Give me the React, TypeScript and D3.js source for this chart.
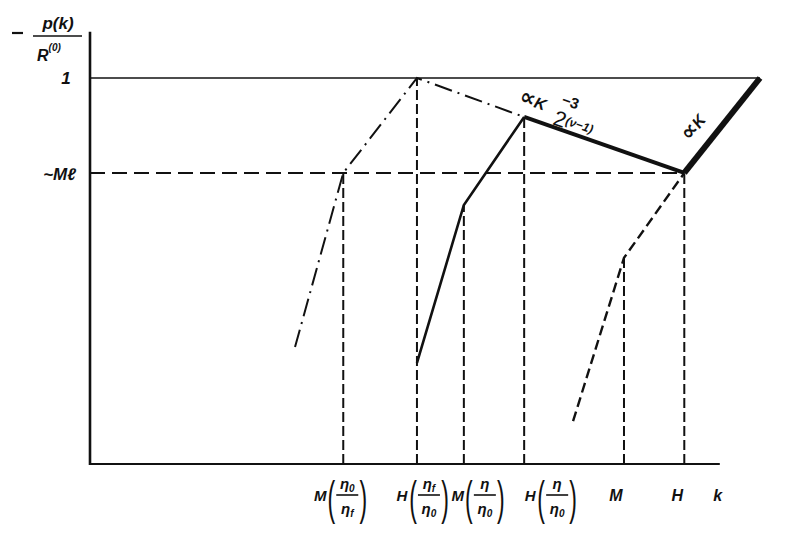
import React from "react";
import * as d3 from "d3";

// ---------- data (log k, log p in arbitrary schematic units) ----------
const breakK = [37.8, 48.8, 55.8, 64.8, 79.7, 88.7];
const breakP = [75.4, 100, 67.1, 89.9, 53.4, 75.4];
const breakLetters = ["M", "H", "M", "H", "M", "H"];
const breakNum = [["η", "0"], ["η", "f"], ["η", ""], ["η", ""], null, null];
const breakDen = [["η", "f"], ["η", "0"], ["η", "0"], ["η", "0"], null, null];

const curveAK = [30.6, 37.8, 48.8, 64.8];
const curveAP = [30.3, 75.4, 100, 89.9];
const curveBK = [48.8, 55.8, 64.8];
const curveBP = [26.2, 67.1, 89.9];
const inertialK = [64.8, 88.7];
const inertialP = [89.9, 75.4];
const curveCK = [72.1, 79.7, 88.7];
const curveCP = [11.1, 53.4, 75.4];
const dissipK = [88.7, 100];
const dissipP = [75.4, 100];

const levelOne = 100;
const levelMl = 75.4;
const kAxisEnd = 94;
const pAxisTop = 112;

// ---------- layout ----------
const W = 811;
const H = 545;
const labelDx = [-28, -20, -11, 1, -8, -7];
const FONT = "'Liberation Sans', 'DejaVu Sans', sans-serif";
const SYM = "'DejaVu Sans', sans-serif";
const INK = "#111";

const x = d3.scaleLinear().domain([0, 100]).range([90, 760]);
const y = d3.scaleLinear().domain([0, 100]).range([464, 78]);

const line = d3
  .line<[number, number]>()
  .x((d) => x(d[0]))
  .y((d) => y(d[1]));
const zipPts = (ks: number[], ps: number[]) =>
  ks.map((k, i) => [k, ps[i]] as [number, number]);

function Eta({ x0, y0, parts }: { x0: number; y0: number; parts: string[] }) {
  return (
    <text
      x={x0}
      y={y0}
      textAnchor="middle"
      fontFamily={FONT}
      fontStyle="italic"
      fontWeight="bold"
      fontSize={15}
      fill={INK}
    >
      {parts[0]}
      {parts[1] ? (
        <tspan fontSize={10} dy={3}>
          {parts[1]}
        </tspan>
      ) : null}
    </text>
  );
}

function TickLabel({ i }: { i: number }) {
  const tx = x(breakK[i]) + labelDx[i];
  const letter = breakLetters[i];
  const num = breakNum[i];
  const den = breakDen[i];
  if (!num || !den) {
    return (
      <text
        x={tx}
        y={501}
        textAnchor="middle"
        fontFamily={FONT}
        fontStyle="italic"
        fontWeight="bold"
        fontSize={16}
        fill={INK}
      >
        {letter}
      </text>
    );
  }
  const fc = tx + 32;
  return (
    <g>
      <text
        x={tx + 5}
        y={501}
        textAnchor="middle"
        fontFamily={FONT}
        fontStyle="italic"
        fontWeight="bold"
        fontSize={15}
        fill={INK}
      >
        {letter}
      </text>
      <text
        transform={`translate(${tx + 16},514) scale(0.5,1)`}
        textAnchor="middle"
        fontFamily={FONT}
        fontSize={46}
        fill={INK}
      >
        (
      </text>
      <Eta x0={fc} y0={489} parts={num} />
      <line x1={fc - 11} x2={fc + 11} y1={495} y2={495} stroke={INK} strokeWidth={1.6} />
      <Eta x0={fc} y0={514} parts={den} />
      <text
        transform={`translate(${tx + 48},514) scale(0.5,1)`}
        textAnchor="middle"
        fontFamily={FONT}
        fontSize={46}
        fill={INK}
      >
        )
      </text>
    </g>
  );
}

export default function App() {
  const dropDash = "10 4";
  return (
    <div style={{ position: "fixed", left: 0, top: 0 }}>
      <svg width={W} height={H} viewBox={`0 0 ${W} ${H}`} style={{ display: "block" }}>
        <rect width={W} height={H} fill="#fff" />

        {/* axes */}
        <line x1={x(0)} x2={x(0)} y1={y(0) + 1} y2={y(pAxisTop)} stroke={INK} strokeWidth={2.6} />
        <line x1={x(0) - 1} x2={x(kAxisEnd)} y1={y(0)} y2={y(0)} stroke={INK} strokeWidth={2} />

        {/* reference levels */}
        <line x1={x(0)} x2={x(dissipK[1])} y1={y(levelOne)} y2={y(levelOne)} stroke={INK} strokeWidth={1.6} />
        <line
          x1={x(0)}
          x2={x(breakK[5])}
          y1={y(levelMl)}
          y2={y(levelMl)}
          stroke={INK}
          strokeWidth={2}
          strokeDasharray="15 7"
        />

        {/* drop lines */}
        {breakK.map((k, i) => (
          <line
            key={i}
            x1={x(k)}
            x2={x(k)}
            y1={y(0)}
            y2={y(breakP[i])}
            stroke={INK}
            strokeWidth={2}
            strokeDasharray={dropDash}
          />
        ))}

        {/* curves */}
        <path
          d={line(zipPts(curveAK, curveAP)) || ""}
          fill="none"
          stroke={INK}
          strokeWidth={2}
          strokeDasharray="18 6 2 6"
        />
        <path d={line(zipPts(curveBK, curveBP)) || ""} fill="none" stroke={INK} strokeWidth={2.6} />
        <path d={line(zipPts(inertialK, inertialP)) || ""} fill="none" stroke={INK} strokeWidth={4} />
        <path
          d={line(zipPts(curveCK, curveCP)) || ""}
          fill="none"
          stroke={INK}
          strokeWidth={2.4}
          strokeDasharray="10 5"
        />
        <path d={line(zipPts(dissipK, dissipP)) || ""} fill="none" stroke={INK} strokeWidth={6} />

        {/* y labels */}
        <line x1={12} x2={23} y1={33} y2={33} stroke={INK} strokeWidth={2.2} />
        <text
          x={58}
          y={29}
          textAnchor="middle"
          fontFamily={FONT}
          fontStyle="italic"
          fontWeight="bold"
          fontSize={17}
          fill={INK}
        >
          p(k)
        </text>
        <line x1={33} x2={82} y1={36} y2={36} stroke={INK} strokeWidth={1.6} />
        <text x={37} y={61} fontFamily={FONT} fontStyle="italic" fontWeight="bold" fontSize={16} fill={INK}>
          R<tspan fontSize={10} dy={-10}>(0)</tspan>
        </text>
        <text
          x={66}
          y={y(levelOne) + 6}
          textAnchor="middle"
          fontFamily={FONT}
          fontStyle="italic"
          fontWeight="bold"
          fontSize={17}
          fill={INK}
        >
          1
        </text>
        <text
          x={76}
          y={y(levelMl) + 7}
          textAnchor="end"
          fontFamily={FONT}
          fontStyle="italic"
          fontWeight="bold"
          fontSize={17}
          fill={INK}
        >
          ~Mℓ
        </text>

        {/* x labels */}
        {breakK.map((_, i) => (
          <TickLabel key={i} i={i} />
        ))}
        <text
          x={x(kAxisEnd) - 2}
          y={501}
          textAnchor="middle"
          fontFamily={FONT}
          fontStyle="italic"
          fontWeight="bold"
          fontSize={16}
          fill={INK}
        >
          k
        </text>

        {/* slope annotations */}
        <g transform={`translate(${x(breakK[3]) - 6},${y(breakP[3]) - 15}) rotate(19)`}>
          <text x={0} y={0} fontFamily={FONT} fontStyle="italic" fontWeight="bold" fontSize={16} fill={INK}>
            <tspan fontFamily={SYM} fontSize={22}>∝</tspan>K
          </text>
          <text x={41} y={-12} fontFamily={FONT} fontWeight="bold" fontSize={15} fill={INK}>
            −3
          </text>
          <text x={39} y={10} fontFamily={FONT} fontSize={22} fill={INK}>
            2<tspan fontSize={12} fontStyle="italic" fontWeight="bold" dy={-4}>(ν−1)</tspan>
          </text>
        </g>
        <g transform={`translate(${x(breakK[5]) + 14},${y(breakP[5]) - 42}) rotate(-52)`}>
          <text x={0} y={0} textAnchor="middle" fontFamily={FONT} fontStyle="italic" fontWeight="bold" fontSize={16} fill={INK}>
            <tspan fontFamily={SYM} fontSize={22}>∝</tspan>K
          </text>
        </g>
      </svg>
    </div>
  );
}
